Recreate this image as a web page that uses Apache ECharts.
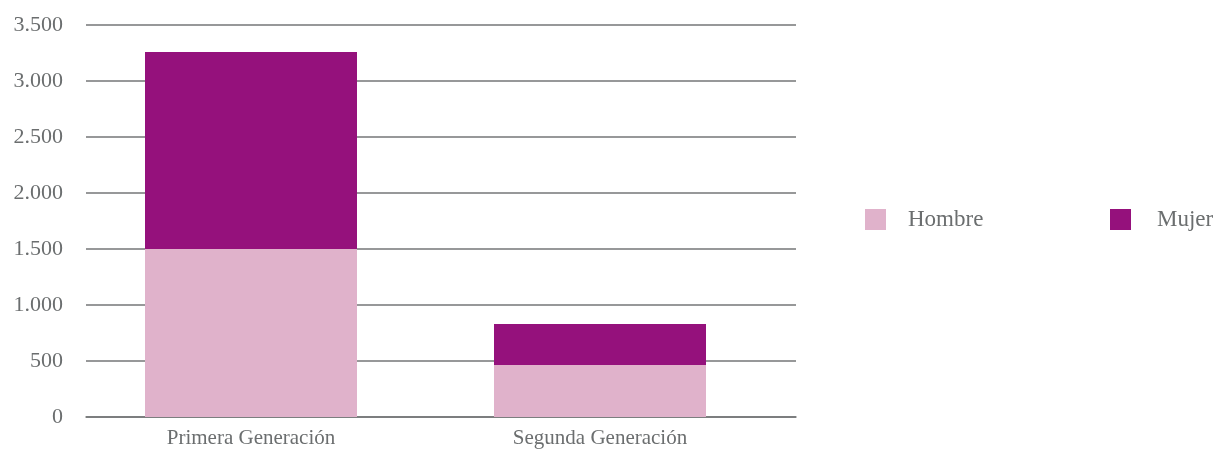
<!DOCTYPE html>
<html>
<head>
<meta charset="utf-8">
<script src="https://cdn.jsdelivr.net/npm/echarts@6/dist/echarts.min.js"></script>
<style>
body{margin:0;background:#fff;}
#chart{width:1220px;height:450px;}
</style>
</head>
<body>
<div id="chart"></div>
<script>
var categories = ['Primera Generación', 'Segunda Generación'];
var hombre = [1500, 464];
var mujer = [1759, 366];
var yTicks = [0, 500, 1000, 1500, 2000, 2500, 3000, 3500];

var textColor = '#6b6e6f';
var font = 'Liberation Serif';

var chart = echarts.init(document.getElementById('chart'));
chart.setOption({
    animation: false,
    textStyle: {fontFamily: font},
    legend: [
        {
            data: ['Hombre'],
            left: 865, top: 208, padding: 0,
            itemWidth: 21, itemHeight: 21,
            icon: 'rect',
            textStyle: {color: textColor, fontSize: 23, fontFamily: font, padding: [3, 0, 0, 17]}
        },
        {
            data: ['Mujer'],
            left: 1110, top: 208, padding: 0,
            itemWidth: 21, itemHeight: 21,
            icon: 'rect',
            textStyle: {color: textColor, fontSize: 23, fontFamily: font, padding: [-8, 0, 0, 21]}
        }
    ],
    grid: [
        // grid for the value axis and split lines
        {left: 86, right: 424, top: 25, bottom: 33},
        // grid for the bars
        {left: 76.5, right: 445.5, top: 25, bottom: 33}
    ],
    xAxis: [
        {
            type: 'category', gridIndex: 0, data: categories,
            axisLine: {show: true, lineStyle: {color: '#747677', width: 1.5}},
            axisTick: {show: false},
            axisLabel: {show: false}
        },
        {
            type: 'category', gridIndex: 1, data: categories,
            axisLine: {show: false},
            axisTick: {show: false},
            axisLabel: {color: textColor, fontSize: 21, fontFamily: font, margin: 11}
        }
    ],
    yAxis: [
        {
            type: 'value', gridIndex: 0, min: yTicks[0], max: yTicks[yTicks.length - 1], interval: 500,
            axisLine: {show: false},
            axisTick: {show: false},
            splitLine: {lineStyle: {color: '#747677', width: 1.5}},
            axisLabel: {
                color: textColor, fontSize: 22, fontFamily: font, margin: 23,
                formatter: function (v) { return v.toLocaleString('de-DE'); }
            }
        },
        {
            type: 'value', gridIndex: 1, min: yTicks[0], max: yTicks[yTicks.length - 1], interval: 500,
            show: false
        }
    ],
    series: [
        {
            name: 'Hombre', type: 'bar', stack: 'total', xAxisIndex: 1, yAxisIndex: 1,
            data: hombre, barWidth: 212,
            itemStyle: {color: '#e0b2cb'}
        },
        {
            name: 'Mujer', type: 'bar', stack: 'total', xAxisIndex: 1, yAxisIndex: 1,
            data: mujer, barWidth: 212,
            itemStyle: {color: '#95117c'}
        }
    ]
});
</script>
</body>
</html>
